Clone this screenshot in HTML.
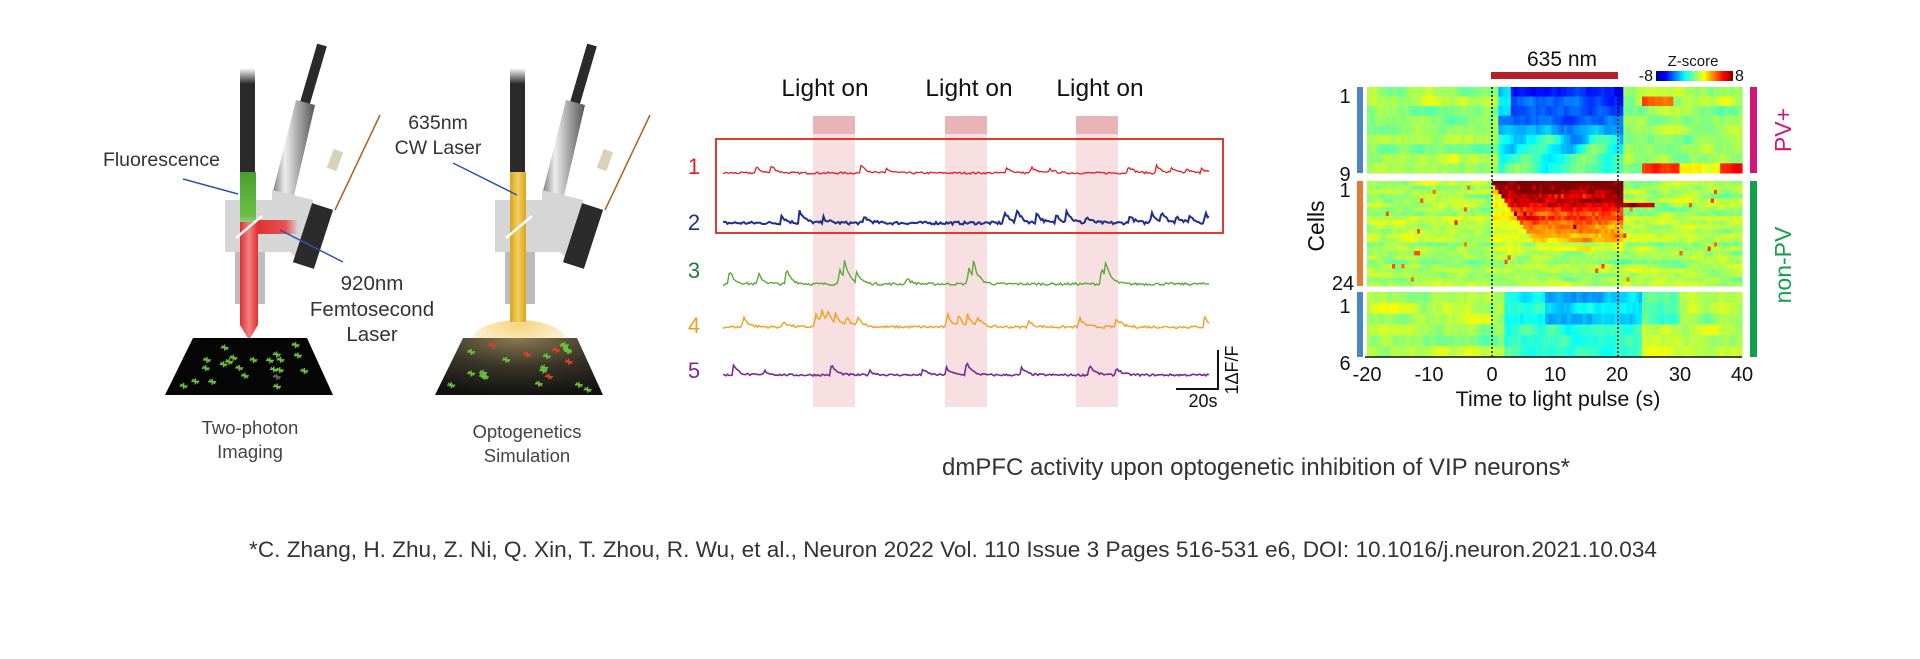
<!DOCTYPE html>
<html><head><meta charset="utf-8">
<style>
html,body{margin:0;padding:0;background:#fff;}
body{width:1920px;height:654px;overflow:hidden;font-family:"Liberation Sans",Arial,sans-serif;}
svg text{font-family:"Liberation Sans",Arial,sans-serif;}
</style></head>
<body>
<svg id="s" width="1920" height="654" viewBox="0 0 1920 654" xmlns="http://www.w3.org/2000/svg">
<defs>
<linearGradient id="metal" x1="0" x2="1" y1="0" y2="0">
<stop offset="0" stop-color="#777"/><stop offset="0.3" stop-color="#eee"/><stop offset="0.6" stop-color="#aaa"/><stop offset="1" stop-color="#555"/>
</linearGradient>
<linearGradient id="fib" x1="0" x2="0" y1="0" y2="1"><stop offset="0" stop-color="#fff"/><stop offset="0.15" stop-color="#2a2a2a"/><stop offset="1" stop-color="#2a2a2a"/></linearGradient>
<linearGradient id="redb" x1="0" x2="1"><stop offset="0" stop-color="#e03030"/><stop offset="0.5" stop-color="#f08080"/><stop offset="1" stop-color="#e03030"/></linearGradient>
<linearGradient id="redh" x1="0" x2="1"><stop offset="0" stop-color="#e03030"/><stop offset="0.7" stop-color="#e85050"/><stop offset="1" stop-color="#e05050" stop-opacity="0"/></linearGradient>
<linearGradient id="yel" x1="0" x2="1"><stop offset="0" stop-color="#d9a520"/><stop offset="0.5" stop-color="#f2d060"/><stop offset="1" stop-color="#d9a520"/></linearGradient>
<linearGradient id="grn" x1="0" x2="0" y1="0" y2="1"><stop offset="0" stop-color="#4a9e30"/><stop offset="0.8" stop-color="#6cc048"/><stop offset="1" stop-color="#6cc048" stop-opacity="0.3"/></linearGradient>
<radialGradient id="glow" cx="0.5" cy="0.1" r="0.8"><stop offset="0" stop-color="#f5d070" stop-opacity="0.9"/><stop offset="1" stop-color="#f5d070" stop-opacity="0"/></radialGradient>
<radialGradient id="plane2" cx="0.5" cy="0" r="1"><stop offset="0" stop-color="#8a7a50"/><stop offset="0.5" stop-color="#3a3528"/><stop offset="1" stop-color="#111"/></radialGradient>
<linearGradient id="cbar" x1="0" x2="1">
<stop offset="0" stop-color="#00008f"/><stop offset="0.125" stop-color="#0000ff"/><stop offset="0.375" stop-color="#00ffff"/><stop offset="0.5" stop-color="#80ff80"/><stop offset="0.625" stop-color="#ffff00"/><stop offset="0.875" stop-color="#ff0000"/><stop offset="1" stop-color="#800000"/>
</linearGradient>
</defs>
<g id="left"></g>
<g id="traces"></g>
<g id="heat"></g>

<text x="220" y="166" font-size="19.5" fill="#333" text-anchor="end">Fluorescence</text>
<line x1="183" y1="179" x2="238" y2="194" stroke="#2a55b5" stroke-width="1.5"/>
<text x="372" y="290" font-size="20.5" fill="#333" text-anchor="middle">920nm</text>
<text x="372" y="316" font-size="20.5" fill="#333" text-anchor="middle">Femtosecond</text>
<text x="372" y="341" font-size="20.5" fill="#333" text-anchor="middle">Laser</text>
<line x1="280" y1="230" x2="343" y2="262" stroke="#2a55b5" stroke-width="1.5"/>
<text x="250" y="434" font-size="18.5" fill="#444" text-anchor="middle">Two-photon</text>
<text x="250" y="458" font-size="18.5" fill="#444" text-anchor="middle">Imaging</text>
<text x="438" y="129" font-size="19.5" fill="#333" text-anchor="middle">635nm</text>
<text x="438" y="154" font-size="19.5" fill="#333" text-anchor="middle">CW Laser</text>
<line x1="453" y1="163" x2="517" y2="195" stroke="#2a55b5" stroke-width="1.5"/>
<text x="527" y="438" font-size="18.5" fill="#444" text-anchor="middle">Optogenetics</text>
<text x="527" y="462" font-size="18.5" fill="#444" text-anchor="middle">Simulation</text>

<text x="825" y="96" font-size="24.5" fill="#111" text-anchor="middle">Light on</text>
<text x="969" y="96" font-size="24.5" fill="#111" text-anchor="middle">Light on</text>
<text x="1100" y="96" font-size="24.5" fill="#111" text-anchor="middle">Light on</text>
<rect x="716" y="139" width="507" height="94" fill="none" stroke="#e03a2a" stroke-width="2"/>
<text x="694" y="174" font-size="22" fill="#e02020" text-anchor="middle">1</text>
<text x="694" y="230" font-size="22" fill="#1f2f8f" text-anchor="middle">2</text>
<text x="694" y="278" font-size="22" fill="#1f7a3a" text-anchor="middle">3</text>
<text x="694" y="333" font-size="22" fill="#f0a020" text-anchor="middle">4</text>
<text x="694" y="378" font-size="22" fill="#7a2a90" text-anchor="middle">5</text>
<polyline points="1176,389 1218,389 1218,350" fill="none" stroke="#111" stroke-width="2"/>
<text x="1203" y="407" font-size="18" fill="#111" text-anchor="middle">20s</text>
<text transform="translate(1238,370) rotate(-90)" font-size="18" fill="#111" text-anchor="middle">1ΔF/F</text>

<text x="1562" y="66" font-size="21" fill="#111" text-anchor="middle">635 nm</text>
<rect x="1491" y="72" width="127" height="7" fill="#b5212b"/>
<text x="1693" y="66" font-size="15" fill="#111" text-anchor="middle">Z-score</text>
<text x="1653" y="81" font-size="16" fill="#111" text-anchor="end">-8</text>
<rect x="1656" y="71" width="77" height="10" fill="url(#cbar)"/>
<text x="1735" y="81" font-size="16" fill="#111">8</text>
<rect x="1357" y="87" width="6" height="86" fill="#4a86c0"/>
<rect x="1357" y="181" width="6" height="105" fill="#e07b39"/>
<rect x="1357" y="292" width="6" height="65" fill="#4a86c0"/>
<rect x="1750" y="87" width="7" height="86" fill="#d6127b"/>
<rect x="1750" y="181" width="7" height="176" fill="#13a04a"/>
<text transform="translate(1791,130) rotate(-90)" font-size="23" fill="#d6127b" text-anchor="middle">PV+</text>
<text transform="translate(1791,265) rotate(-90)" font-size="23" fill="#13a04a" text-anchor="middle">non-PV</text>
<text x="1345" y="103" font-size="20" fill="#111" text-anchor="middle">1</text>
<text x="1345" y="181" font-size="20" fill="#111" text-anchor="middle">9</text>
<text x="1345" y="197" font-size="20" fill="#111" text-anchor="middle">1</text>
<text x="1343" y="290" font-size="20" fill="#111" text-anchor="middle">24</text>
<text x="1345" y="313" font-size="20" fill="#111" text-anchor="middle">1</text>
<text x="1345" y="370" font-size="20" fill="#111" text-anchor="middle">6</text>
<text transform="translate(1324,226) rotate(-90)" font-size="23" fill="#111" text-anchor="middle">Cells</text>
<line x1="1365" y1="357" x2="1742" y2="357" stroke="#111" stroke-width="1.5"/>
<text x="1367" y="381" font-size="20" fill="#111" text-anchor="middle">-20</text>
<text x="1429" y="381" font-size="20" fill="#111" text-anchor="middle">-10</text>
<text x="1492" y="381" font-size="20" fill="#111" text-anchor="middle">0</text>
<text x="1555" y="381" font-size="20" fill="#111" text-anchor="middle">10</text>
<text x="1617" y="381" font-size="20" fill="#111" text-anchor="middle">20</text>
<text x="1680" y="381" font-size="20" fill="#111" text-anchor="middle">30</text>
<text x="1742" y="381" font-size="20" fill="#111" text-anchor="middle">40</text>
<text x="1558" y="406" font-size="21.5" fill="#111" text-anchor="middle">Time to light pulse  (s)</text>

<text x="1256" y="475" font-size="24" fill="#333" text-anchor="middle">dmPFC activity upon optogenetic inhibition of VIP neurons*</text>
<text x="953" y="557" font-size="22.6" fill="#333" text-anchor="middle">*C. Zhang, H. Zhu, Z. Ni, Q. Xin, T. Zhou, R. Wu, et al., Neuron 2022 Vol. 110 Issue 3 Pages 516-531 e6, DOI: 10.1016/j.neuron.2021.10.034</text>
</svg>
<script>
var NS="http://www.w3.org/2000/svg";
function el(p,t,a){var e=document.createElementNS(NS,t);for(var k in a)e.setAttribute(k,a[k]);p.appendChild(e);return e;}
var seed=7;function rnd(){seed=(seed*16807)%2147483647;return (seed-1)/2147483646;}
var L=document.getElementById('left');
function scope(dx,opto){
 var g=el(L,'g',{transform:'translate('+dx+',0)'});
 el(g,'line',{x1:322,y1:45,x2:300,y2:120,stroke:'#2a2a2a','stroke-width':10});
 el(g,'polygon',{points:'296,100 315,105 293,200 272,195',fill:'url(#metal)'});
 el(g,'line',{x1:380,y1:115,x2:335,y2:210,stroke:'#b06020','stroke-width':1.5});
 el(g,'rect',{x:330,y:150,width:10,height:20,fill:'#d8d2b8',transform:'rotate(20 335 160)'});
 el(g,'rect',{x:240,y:68,width:15,height:106,fill:'url(#fib)'});
 el(g,'polygon',{points:'225,200 272,200 272,190 313,200 313,225 300,262 290,252 225,252',fill:'#d6d6d6'});
 el(g,'rect',{x:235,y:252,width:30,height:52,fill:'#bdbdbd'});
 el(g,'rect',{x:302,y:205,width:22,height:62,fill:'#2b2b2b',transform:'rotate(18 313 236)'});
 if(!opto){
  el(g,'rect',{x:240,y:172,width:16,height:55,fill:'url(#grn)'});
  el(g,'rect',{x:256,y:220,width:42,height:14,fill:'url(#redh)'});
  el(g,'polygon',{points:'240,222 258,222 258,325 249,340 240,325',fill:'url(#redb)'});
 }else{
  el(g,'ellipse',{cx:249,cy:342,rx:48,ry:22,fill:'url(#glow)'});
  el(g,'rect',{x:240,y:172,width:16,height:150,fill:'url(#yel)'});
 }
 el(g,'line',{x1:236,y1:238,x2:262,y2:216,stroke:'#fff','stroke-width':2.5});
 el(g,'polygon',{points:'193,338 307,338 333,395 165,395',fill:opto?'url(#plane2)':'#050505'});
 for(var i=0;i<22;i++){
  var yy=345+rnd()*45, t=(yy-338)/57, xl=193-28*t, xr=307+26*t;
  var xx=xl+6+rnd()*(xr-xl-12);
  var c=rnd()<0.12?(opto?'#e04020':'#666'):'#6cc040';
  if(opto&&rnd()<0.1)c='#e04020';
  el(g,'path',{d:'M'+(xx-4)+' '+yy+'h8M'+xx+' '+(yy-3)+'v6M'+(xx-3)+' '+(yy-2)+'l6 4',stroke:c,'stroke-width':1.4});
 }
}
scope(0,false);scope(270,true);
var T=document.getElementById('traces');
[[813,855],[945,987],[1076,1118]].forEach(function(b){
 el(T,'rect',{x:b[0],y:116,width:42,height:291,fill:'#f7dfe2'});
 el(T,'rect',{x:b[0],y:116,width:42,height:18,fill:'#e8b4b8'});
});
var tr=[[173,'#e02020',[[755,8],[770,10],[860,12],[885,6],[1005,8],[1030,8],[1048,6],[1127,10],[1155,10],[1170,6],[1185,5],[1200,7]],2,1.3],
[223,'#1f2f8f',[[780,10],[798,17],[822,7],[863,9],[1003,15],[1015,18],[1035,14],[1055,12],[1065,16],[1085,8],[1128,10],[1150,16],[1160,14],[1175,10],[1188,10],[1204,14]],3,2],
[284,'#5aab3a',[[728,18],[757,14],[785,20],[838,23],[843,22],[855,14],[905,8],[967,24],[972,22],[1100,22],[1104,20]],2.5,1.4],
[327,'#f0a020',[[742,14],[782,8],[814,18],[820,18],[826,16],[834,14],[845,12],[856,14],[946,18],[957,14],[966,15],[976,12],[1027,8],[1078,12],[1115,12],[1203,14]],2.5,1.4],
[375,'#7a2a90',[[732,14],[763,6],[830,14],[868,6],[921,8],[945,10],[965,18],[1020,10],[1088,14],[1115,10]],2,1.6]];
tr.forEach(function(t){
 var pts=[];for(var x=723;x<=1209;x+=1.5){
  var v=(rnd()-0.5)*t[3];
  t[2].forEach(function(p){var d=x-p[0];if(d>=0&&d<25)v+=p[1]*Math.exp(-d/5)*(d<1.5?d/1.5:1);});
  pts.push(x.toFixed(1)+','+(t[0]-v).toFixed(1));}
 el(T,'polyline',{points:pts.join(' '),fill:'none',stroke:t[1],'stroke-width':t[4]});
});
var H=document.getElementById('heat');
function jet(v){v=Math.max(0,Math.min(1,v));
 function c(x){return Math.max(0,Math.min(1,1.5-Math.abs(4*x)));}
 var r=c(v-0.75),g=c(v-0.5),b=c(v-0.25);
 return 'rgb('+Math.round(r*255)+','+Math.round(g*255)+','+Math.round(b*255)+')';}
function X(t){return 1367+(t+20)*375/60;}
function block(y0,y1,n,f){
 var h=(y1-y0)/n;
 for(var r=0;r<n;r++){var rb=(rnd()-0.5)*0.06;var prev=0;for(var t=-20;t<40;t+=0.5){
  prev=prev*0.8+(rnd()-0.5)*0.06;
  var v=0.54+rb+prev+f(r,t,n);
  el(H,'rect',{x:X(t).toFixed(1),y:(y0+r*h).toFixed(1),width:3.7,height:(h+0.5).toFixed(1),fill:jet(v)});}}
}
block(87,173,9,function(r,t){
 var v=0;if(t>=1&&t<21){v=-0.4+r*0.035; if(r<3&&t<3)v*=0.5; if(r>4)v*=0.6+0.4*Math.sin(t*0.7+r);}
 if(r==8&&t>=24)v=0.3*(t<30||t>36?1:0.4); if(r==1&&t>=24&&t<29)v=0.25; return v;});
block(181,286,24,function(r,t){
 var v=0;if(t>=0&&t<21){var k=Math.max(0,1-r/17);v=(0.42*k+0.15*rnd()*k)*(t<r*0.5?0.3:1);}
 if(r==5&&t>=20&&t<26)v=0.4; if(rnd()<0.01)v+=0.25; return v;});
block(292,357,6,function(r,t){
 var v=0;if(t>=2&&t<24){v=-0.12-(r<3?0.1:0)*(t>8?1:0.4);} if(r<3&&t>=24&&t<30)v=-0.1; if(r>=3&&t>=24)v=0.03; return v;});
el(H,'line',{x1:1492,y1:87,x2:1492,y2:357,stroke:'#111','stroke-width':1.5,'stroke-dasharray':'2,2'});
el(H,'line',{x1:1618,y1:87,x2:1618,y2:357,stroke:'#111','stroke-width':1.5,'stroke-dasharray':'2,2'});
</script>
</body></html>
